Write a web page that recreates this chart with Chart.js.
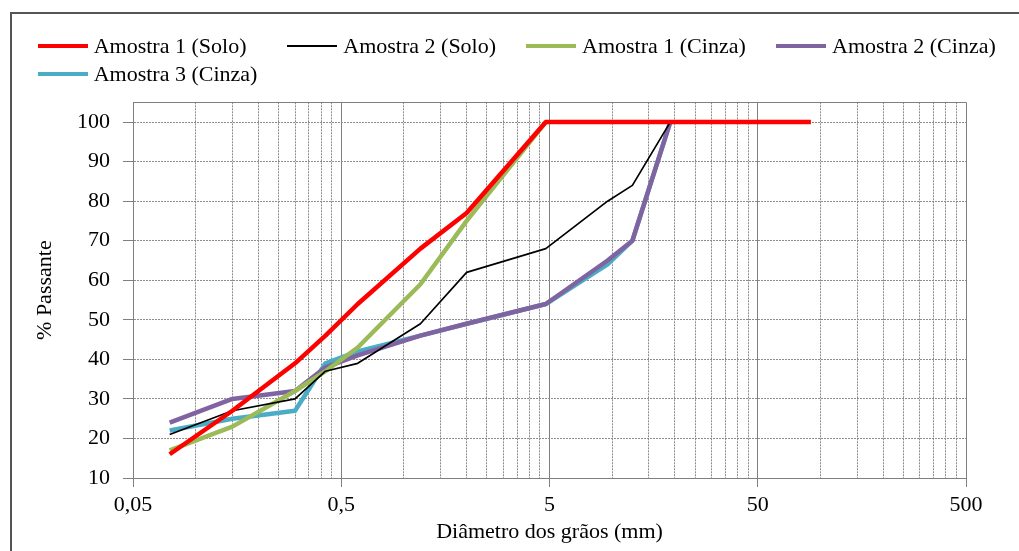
<!DOCTYPE html>
<html>
<head>
<meta charset="utf-8">
<script src="https://cdn.jsdelivr.net/npm/chart.js@4.4.1/dist/chart.umd.min.js"></script>
<style>
html,body{margin:0;padding:0;background:#fff;}
#wrap{position:relative;width:1019px;height:551px;overflow:hidden;font-family:"Liberation Serif","Times New Roman",serif;background:#fff;}
#frame{position:absolute;left:10px;top:12px;width:1100px;height:700px;border-left:2px solid #555;border-top:2px solid #555;}
#c{position:absolute;left:0;top:0;}
.item{position:absolute;height:22px;display:flex;align-items:center;font-size:22px;line-height:22px;color:#000;white-space:nowrap;}
.sw{width:50px;margin-right:6px;}
</style>
</head>
<body>
<div id="wrap">
  <div id="frame"></div>
  <canvas id="c" width="1019" height="551"></canvas>
  <div id="legend"></div>
</div>
<script>
// ---- data ----
const sieveSizes = [0.075, 0.15, 0.3, 0.42, 0.6, 1.2, 2.0, 4.8, 9.5, 12.5, 19];

const solo1Sizes  = [0.075, 0.15, 0.3, 0.42, 0.6, 1.2, 2.0, 4.8, 90];
const solo1Values = [16, 27, 39, 46, 54, 68, 77, 100, 100];

const solo2Values  = [21, 27, 30, 37, 39, 49, 62, 68, 80, 84, 100];

const cinza1Sizes  = [0.075, 0.15, 0.3, 0.42, 0.6, 1.2, 2.0, 4.8];
const cinza1Values = [17, 23, 32, 37, 43, 59, 75, 100];

const cinza2Values = [24, 30, 32, 38, 41, 46, 49, 54, 65, 70, 100];
const cinza3Values = [22, 25, 27, 39, 42, 46, 49, 54, 64, 70, 100];

const seriesLabels = ["Amostra 1 (Solo)", "Amostra 2 (Solo)", "Amostra 1 (Cinza)", "Amostra 2 (Cinza)", "Amostra 3 (Cinza)"];
const seriesColors = ["#FF0000", "#000000", "#9BBB59", "#8064A2", "#4BACC6"];

const decadeTicks = [0.05, 0.5, 5, 50, 500];
const decadeLabels = ["0,05", "0,5", "5", "50", "500"];
const yTickValues = [10, 20, 30, 40, 50, 60, 70, 80, 90, 100];

const xTitle = "Diâmetro dos grãos (mm)";
const yTitle = "% Passante";

// ---- helpers ----
const FONT = "'Liberation Serif', 'Times New Roman', serif";
const pts = (xs, ys) => xs.map((x, i) => ({x: x, y: ys[i]}));
const decadeIndex = v => decadeTicks.findIndex(d => Math.abs(v / d - 1) < 1e-6);
const isDecade = v => decadeIndex(v) >= 0;

const xTickValues = [];
decadeTicks.slice(0, -1).forEach(d => {
  for (let k = 1; k <= 9; k++) xTickValues.push(Number((d * k).toPrecision(6)));
});
xTickValues.push(decadeTicks[decadeTicks.length - 1]);

const datasets = [
  {label: seriesLabels[0], data: pts(solo1Sizes, solo1Values), borderColor: seriesColors[0], borderWidth: 4.5, order: 0},
  {label: seriesLabels[1], data: pts(sieveSizes, solo2Values), borderColor: seriesColors[1], borderWidth: 1.7, order: 1},
  {label: seriesLabels[2], data: pts(cinza1Sizes, cinza1Values), borderColor: seriesColors[2], borderWidth: 4.5, order: 2},
  {label: seriesLabels[3], data: pts(sieveSizes, cinza2Values), borderColor: seriesColors[3], borderWidth: 4.5, order: 3},
  {label: seriesLabels[4], data: pts(sieveSizes, cinza3Values), borderColor: seriesColors[4], borderWidth: 4.5, order: 4}
];
datasets.forEach(d => { d.fill = false; d.pointRadius = 0; d.tension = 0; d.backgroundColor = d.borderColor; });

// ---- HTML legend (two rows like the reference) ----
const legendSlots = [
  {left: 37.7, top: 34.8}, {left: 287.3, top: 34.8}, {left: 526, top: 34.8}, {left: 776, top: 34.8},
  {left: 37.7, top: 63.2}
];
const legendThickness = [4, 2, 4, 4, 4];
const legendEl = document.getElementById('legend');
seriesLabels.forEach((lab, i) => {
  const it = document.createElement('div');
  it.className = 'item';
  it.style.left = legendSlots[i].left + 'px';
  it.style.top = legendSlots[i].top + 'px';
  const sw = document.createElement('div');
  sw.className = 'sw';
  sw.style.height = legendThickness[i] + 'px';
  sw.style.background = seriesColors[i];
  const tx = document.createElement('span');
  tx.textContent = lab;
  it.appendChild(sw); it.appendChild(tx);
  legendEl.appendChild(it);
});

// ---- plot-area top border ----
const frameTop = {
  id: 'frameTop',
  beforeDatasetsDraw(chart) {
    const {ctx, chartArea: a} = chart;
    ctx.save();
    ctx.strokeStyle = '#7f7f7f';
    ctx.lineWidth = 1;
    ctx.beginPath();
    ctx.moveTo(a.left, Math.round(a.top) + 0.5);
    ctx.lineTo(a.right, Math.round(a.top) + 0.5);
    ctx.stroke();
    ctx.restore();
  }
};

const GRID = '#8c8c8c';
const AXIS = '#7f7f7f';

new Chart(document.getElementById('c'), {
  type: 'line',
  data: {datasets: datasets},
  plugins: [frameTop],
  options: {
    responsive: false,
    animation: false,
    devicePixelRatio: 1,
    layout: {padding: {left: 0, right: 53, top: 102.3, bottom: 0}},
    plugins: {legend: {display: false}, tooltip: {enabled: false}},
    elements: {line: {borderCapStyle: 'butt', borderJoinStyle: 'round'}},
    scales: {
      x: {
        type: 'logarithmic',
        min: 0.05,
        max: 500,
        afterBuildTicks: s => { s.ticks = xTickValues.map(v => ({value: v, major: isDecade(v)})); },
        afterFit: s => { s.height = 73; },
        ticks: {
          autoSkip: false, maxRotation: 0, minRotation: 0, padding: 5, color: '#000',
          font: {family: FONT, size: 22},
          callback: v => { const i = decadeIndex(v); return i >= 0 ? decadeLabels[i] : ''; }
        },
        grid: {
          color: c => (c.tick && isDecade(c.tick.value)) ? AXIS : GRID,
          lineWidth: 1,
          tickLength: 9,
          tickColor: c => (c.tick && isDecade(c.tick.value)) ? AXIS : 'rgba(0,0,0,0)'
        },
        border: {display: true, color: AXIS, width: 1, dash: c => (c.tick && !isDecade(c.tick.value)) ? [2, 1] : []},
        title: {display: true, text: xTitle, color: '#000', font: {family: FONT, size: 22}, padding: {top: 0, bottom: 6}}
      },
      y: {
        type: 'linear',
        min: 10,
        max: 105,
        afterBuildTicks: s => { s.ticks = yTickValues.map(v => ({value: v})); },
        afterFit: s => { s.width = 133; },
        ticks: {padding: 13, color: '#000', font: {family: FONT, size: 22}},
        grid: {color: GRID, lineWidth: 1, tickLength: 10, tickColor: AXIS},
        border: {display: true, color: AXIS, width: 1, dash: c => c.tick ? [2, 1] : []},
        title: {display: true, text: yTitle, color: '#000', font: {family: FONT, size: 22}, padding: {top: 32, bottom: 0}}
      }
    }
  }
});
</script>
</body>
</html>
